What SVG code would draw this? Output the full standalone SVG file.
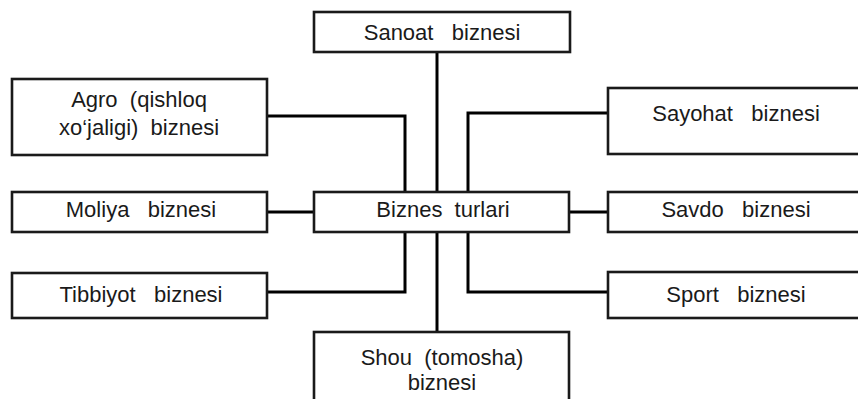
<svg xmlns="http://www.w3.org/2000/svg" width="858" height="399" viewBox="0 0 858 399">
<style>
.box{fill:#fff;stroke:#1a1a1a;stroke-width:2.6}
.lbl{font-family:"Liberation Sans",Arial,sans-serif;font-size:22px;fill:#1a1a1a;text-anchor:middle;white-space:pre}
.con{fill:none;stroke:#000;stroke-width:3}
</style>
<rect width="858" height="399" fill="#fff"/>
<g id="connectors">
<line class="con" x1="437" y1="51" x2="437" y2="192"/>
<line class="con" x1="437" y1="232" x2="437" y2="333"/>
<polyline class="con" points="267,116 405,116 405,192"/>
<polyline class="con" points="608,113 468,113 468,192"/>
<line class="con" x1="267" y1="212" x2="314" y2="212"/>
<line class="con" x1="569" y1="212" x2="608" y2="212"/>
<polyline class="con" points="267,292 405,292 405,232"/>
<polyline class="con" points="608,292 468,292 468,232"/>
</g>
<g id="sanoat"><rect class="box" x="314" y="12" width="256" height="40"/><text class="lbl" x="442" y="40">Sanoat   biznesi</text></g>
<g id="agro"><rect class="box" x="12" y="79" width="255" height="76"/><text class="lbl" x="139" y="107">Agro  (qishloq</text><text class="lbl" x="139" y="135">xo‘jaligi)  biznesi</text></g>
<g id="sayohat"><rect class="box" x="608" y="88" width="256" height="66"/><text class="lbl" x="736" y="121">Sayohat   biznesi</text></g>
<g id="moliya"><rect class="box" x="12" y="192" width="255" height="40"/><text class="lbl" x="141" y="217">Moliya   biznesi</text></g>
<g id="biznes"><rect class="box" x="314" y="192" width="255" height="40"/><text class="lbl" x="443" y="217">Biznes  turlari</text></g>
<g id="savdo"><rect class="box" x="608" y="192" width="256" height="40"/><text class="lbl" x="736" y="217">Savdo   biznesi</text></g>
<g id="tibbiyot"><rect class="box" x="12" y="273" width="255" height="45"/><text class="lbl" x="141" y="302">Tibbiyot   biznesi</text></g>
<g id="sport"><rect class="box" x="608" y="272" width="256" height="46"/><text class="lbl" x="736" y="302">Sport   biznesi</text></g>
<g id="shou"><rect class="box" x="314" y="332" width="255" height="80"/><text class="lbl" x="442" y="365">Shou  (tomosha)</text><text class="lbl" x="442" y="390">biznesi</text></g>
</svg>
